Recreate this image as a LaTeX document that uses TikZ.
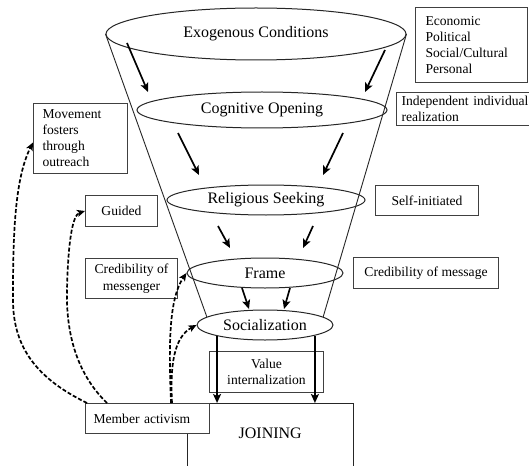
\documentclass[tikz,border=0pt]{standalone}
\usepackage{fontspec}
\setmainfont{Liberation Serif}
\usetikzlibrary{shapes.geometric,arrows.meta,calc}
\begin{document}
\begin{tikzpicture}[x=1pt,y=-1pt,
  ell/.style={ellipse, draw=black!85, line width=1pt, inner sep=0pt, font=\fontsize{16}{18}\selectfont},
  bx/.style={rectangle, draw=black!75, line width=1pt, inner sep=0pt, anchor=north west, font=\fontsize{13.6}{16}\selectfont, align=center},
  bxl/.style={bx, align=left},
  flow/.style={line width=1.7pt, -{Stealth[length=9pt,width=8pt,inset=2pt]}},
  dashedarrow/.style={line width=1.7pt, dash pattern=on 4pt off 2pt, -{Stealth[length=8pt,width=7pt,inset=2pt]}},
  funnel/.style={line width=0.9pt, black!85}]
\useasboundingbox (0,0) rectangle (529,465);
\fill[white] (0,0) rectangle (529,465);
\clip (0,0) rectangle (529,465);

% ellipses of the funnel
\node[ell, minimum width=300, minimum height=52] (exo) at (256,34) {Exogenous Conditions};
\node[ell, minimum width=250, minimum height=36] (cog) at (262,110) {Cognitive Opening};
\node[ell, minimum width=198, minimum height=30] (rel) at (266,200) {Religious Seeking};
\node[ell, minimum width=156, minimum height=30] (frm) at (265,273) {Frame};
\node[ell, minimum width=136, minimum height=30] (soc) at (265,325) {Socialization};

% funnel sides
\draw[funnel] (exo.west) -- (soc.172);
\draw[funnel] (exo.east) -- (soc.8);

% right boxes
\node[bxl, text width=92, inner xsep=10, minimum height=75] (econ) at (415,7) {Economic\\Political\\Social/Cultural\\Personal};
\node[bxl, text width=130, inner xsep=5, minimum height=33] (indep) at (396,92) {Independent individual\\realization};
\node[bx, minimum width=103, minimum height=30] (self) at (375,185) {Self-initiated};
\node[bx, minimum width=145, minimum height=31] (cmsg) at (353,257) {Credibility of message};

% left boxes
\node[bxl, text width=76, inner xsep=9, minimum height=70] (mov) at (33,103) {Movement\\fosters\\through\\outreach};
\node[bx, minimum width=72, minimum height=31] (guid) at (85,195) {Guided};
\node[bx, minimum width=92, minimum height=40, font=\fontsize{13.6}{17}\selectfont] (cmes) at (85,258) {Credibility of\\messenger};

% value internalization
\node[bx, minimum width=114, minimum height=41] (val) at (209,351) {Value\\internalization};

% joining (open at the bottom edge of the picture)
\node[anchor=north west, minimum width=166, minimum height=60, inner sep=0pt, font=\fontsize{16}{18}\selectfont] (join) at (187,403) {JOINING};
\draw[black!85, line width=1pt] ($(join.south west)+(0,8)$) |- (join.north east) -- ($(join.south east)+(0,8)$);

% member activism
\node[bxl, fill=white, text width=108, inner xsep=8, minimum height=30] (mem) at (85,403) {Member activism};

% solid arrows between stages
\coordinate (a1s) at (127,43);  \coordinate (a1e) at (148,92);
\coordinate (a2s) at (385,50);  \coordinate (a2e) at (365,92);
\coordinate (a3s) at (178,133); \coordinate (a3e) at (199,175);
\coordinate (a4s) at (343,133); \coordinate (a4e) at (323,175);
\coordinate (a5s) at (218,226); \coordinate (a5e) at (230,248);
\coordinate (a6s) at (313,226); \coordinate (a6e) at (303,248);
\coordinate (a7s) at (242,288); \coordinate (a7e) at (249,309);
\coordinate (a8s) at (290,288); \coordinate (a8e) at (284,309);
\foreach \i in {1,...,8} {\draw[flow] (a\i s) -- (a\i e);}

\draw[flow] (soc.193) -- (soc.193 |- join.north);
\draw[flow] (soc.348) -- (soc.348 |- join.north);

% dashed arrows from member activism
\draw[dashedarrow] ([xshift=2pt]mem.north west) .. controls (40,380) and (13,350) .. (13,300)
   .. controls (13,240) and (14,180) .. ([yshift=-4pt]mov.west);
\draw[dashedarrow] ([xshift=22pt]mem.north west) .. controls (75,372) and (66,330) .. (67,290)
   .. controls (68,245) and (72,215) .. (guid.west);
\draw[dashedarrow] ([xshift=-39pt]mem.north east) .. controls (169,350) and (168,300) .. (frm.west);
\draw[dashedarrow] ([xshift=-38pt]mem.north east) .. controls (170,365) and (174,337) .. (soc.west);
\end{tikzpicture}
\end{document}
